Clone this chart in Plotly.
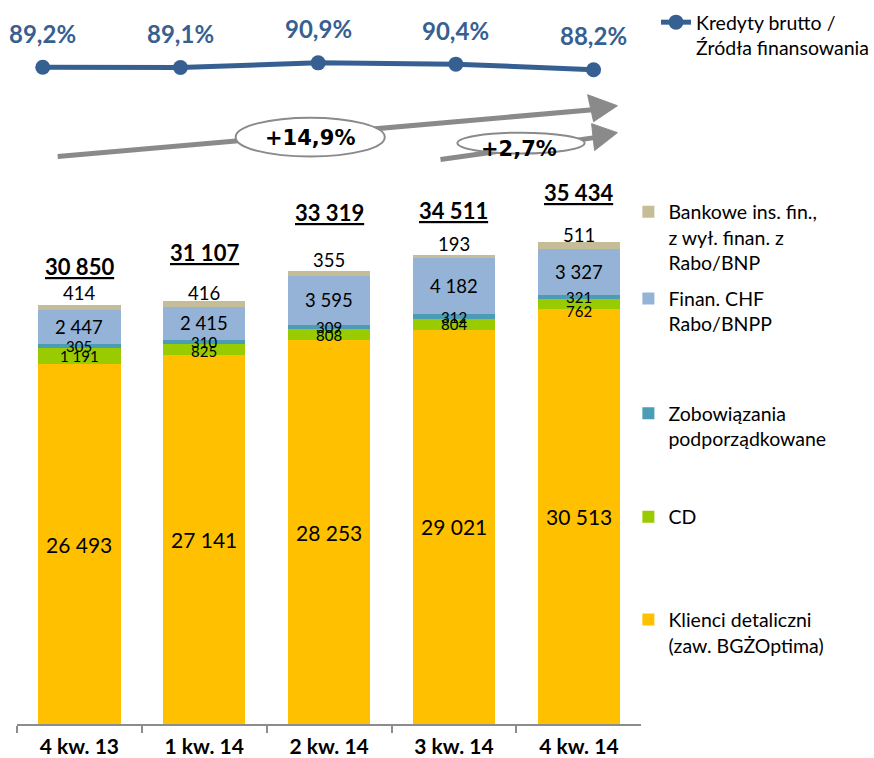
import plotly.graph_objects as go

# ---------------- data ----------------
quarters = ["4 kw. 13", "1 kw. 14", "2 kw. 14", "3 kw. 14", "4 kw. 14"]
klienci = [26493, 27141, 28253, 29021, 30513]
cd = [1191, 825, 808, 804, 762]
zobow = [305, 310, 309, 312, 321]
chf = [2447, 2415, 3595, 4182, 3327]
bankowe = [414, 416, 355, 193, 511]
totals = [30850, 31107, 33319, 34511, 35434]
ratio = [89.2, 89.1, 90.9, 90.4, 88.2]
growth_labels = ["+14,9%", "+2,7%"]

series_names = [
    "Klienci detaliczni<br>(zaw. BGŻOptima)",
    "CD",
    "Zobowiązania<br>podporządkowane",
    "Finan. CHF<br>Rabo/BNPP",
    "Bankowe ins. fin.,<br>z wył. finan. z<br>Rabo/BNP",
]
line_name = "Kredyty brutto /<br>Źródła finansowania"

# ---------------- styles / positions ----------------
W, H = 874, 758
FONT = "Lato"
colors = ["#FFC000", "#99CC00", "#4A9DB5", "#95B3D7", "#C4BD97"]
LINE_COLOR = "#376092"
GREY = "#8A8A8A"


def px(x):
    return x / W


def py(y):
    return 1 - y / H


PX_PER_UNIT = 0.01363          # bar scale (pixels per million)
PLOT_BOTTOM = 726              # pixel row of the category axis
RATIO_PX = 2.59                # pixels per percentage point of the line
RATIO_TOP = 90.9 + 63 / RATIO_PX
STEP = 138.5                   # pixel distance between line points
FIRST = 43                     # pixel column of the first line point

fmt = lambda v: f"{v:,}".replace(",", " ")

fig = go.Figure()

stack = [klienci, cd, zobow, chf, bankowe]
legend_ids = ["legend6", "legend5", "legend4", "legend3", "legend2"]
for vals, name, col, lg in zip(stack, series_names, colors, legend_ids):
    fig.add_trace(go.Bar(
        x=quarters, y=vals, name=name, marker=dict(color=col, line=dict(width=0)),
        legend=lg, hoverinfo="skip",
    ))

fig.add_trace(go.Scatter(
    x=quarters, y=ratio, xaxis="x2", yaxis="y2", name=line_name,
    mode="lines+markers", line=dict(color=LINE_COLOR, width=5),
    marker=dict(color=LINE_COLOR, size=15), legend="legend", hoverinfo="skip",
    cliponaxis=False,
))

annotations = []
# segment labels
cd_shift = [0, -1, 0, 0, -7]
for i, q in enumerate(quarters):
    base = 0
    for k, vals in enumerate(stack[:4]):
        mid = base + vals[i] / 2
        base += vals[i]
        size = 21 if k == 0 else (18.5 if k == 3 else 15)
        ys = cd_shift[i] if k == 1 else 0
        annotations.append(dict(
            x=q, y=mid, xref="x", yref="y", text=fmt(vals[i]), showarrow=False,
            yshift=ys, font=dict(family=FONT, size=size, color="#000000"),
        ))

# top segment labels and totals
top_shift = [12, 8, 11, 11, 7]
total_shift = [38, 49, 59, 44, 50]
for i, q in enumerate(quarters):
    annotations.append(dict(
        x=q, y=totals[i], xref="x", yref="y", text=fmt(bankowe[i]), showarrow=False,
        yshift=top_shift[i], font=dict(family=FONT, size=18.5, color="#000000"),
    ))
    annotations.append(dict(
        x=q, y=totals[i], xref="x", yref="y", text="<u>" + fmt(totals[i]) + "</u>",
        showarrow=False, yshift=total_shift[i],
        font=dict(family=FONT, size=22, color="#000000", weight="bold"),
    ))

# ratio labels
for i, q in enumerate(quarters):
    annotations.append(dict(
        x=q, y=ratio[i], xref="x2", yref="y2",
        text=f"{ratio[i]:.1f}".replace(".", ",") + "%", showarrow=False, yshift=34,
        font=dict(family=FONT, size=24, color=LINE_COLOR, weight="bold"),
    ))

# growth arrows
shapes = []
arrows = [
    dict(line=((58, 157), (596, 110)), head=((591, 95), (621, 106), (597, 122)),
         ell=(237, 118, 387, 157), text=(312, 138)),
    dict(line=((443, 160), (598, 138)), head=((595, 124), (621, 133), (598, 151)),
         ell=(460, 133, 588, 154), text=(522, 149)),
]
for a, lbl in zip(arrows, growth_labels):
    (x0, y0), (x1, y1) = a["line"]
    shapes.append(dict(type="line", xref="paper", yref="paper",
                       x0=px(x0), y0=py(y0), x1=px(x1), y1=py(y1),
                       line=dict(color=GREY, width=5)))
    hp = a["head"]
    path = "M {} {} L {} {} L {} {} Z".format(
        px(hp[0][0]), py(hp[0][1]), px(hp[1][0]), py(hp[1][1]), px(hp[2][0]), py(hp[2][1]))
    shapes.append(dict(type="path", xref="paper", yref="paper", path=path,
                       fillcolor=GREY, line=dict(color=GREY, width=1)))
for a, lbl in zip(arrows, growth_labels):
    ex0, ey0, ex1, ey1 = a["ell"]
    shapes.append(dict(type="circle", xref="paper", yref="paper",
                       x0=px(ex0), y0=py(ey0), x1=px(ex1), y1=py(ey1),
                       fillcolor="white", line=dict(color=GREY, width=2)))
    tx, ty = a["text"]
    annotations.append(dict(x=px(tx), y=py(ty), xref="paper", yref="paper",
                            xanchor="center", yanchor="middle",
                            text=lbl, showarrow=False,
                            font=dict(family="DejaVu Sans", size=21, color="#000000",
                                      weight="bold")))

legend_font = dict(family=FONT, size=19.5, color="#000000")


def lg(y):
    return dict(x=px(632), y=py(y), xanchor="left", yanchor="top", font=legend_font,
                valign="top", bgcolor="rgba(0,0,0,0)", borderwidth=0)


fig.update_layout(
    width=W, height=H, margin=dict(l=0, r=0, t=0, b=0),
    paper_bgcolor="white", plot_bgcolor="rgba(0,0,0,0)",
    barmode="stack", bargap=0.34,
    showlegend=True,
    xaxis=dict(domain=[px(17), px(645)], type="category", showline=True,
               linecolor="#8C8C8C", linewidth=1.5, ticks="outside", tickson="boundaries",
               ticklen=7, tickcolor="#8C8C8C", tickwidth=1.5, showgrid=False,
               ticklabelstandoff=3,
               tickfont=dict(family=FONT, size=21, color="#000000", weight="bold"),
               fixedrange=True),
    yaxis=dict(domain=[(H - PLOT_BOTTOM) / H, 1], range=[0, PLOT_BOTTOM / PX_PER_UNIT],
               visible=False, fixedrange=True),
    xaxis2=dict(domain=[0, 1], anchor="y2", type="category", visible=False,
                range=[-FIRST / STEP, (W - FIRST) / STEP], fixedrange=True),
    yaxis2=dict(domain=[0, 1], anchor="x2", visible=False,
                range=[RATIO_TOP - H / RATIO_PX, RATIO_TOP], fixedrange=True),
    legend=dict(x=px(660), y=py(3), xanchor="left", yanchor="top", font=legend_font,
                valign="top", bgcolor="rgba(0,0,0,0)"),
    legend2=lg(193),
    legend3=lg(280),
    legend4=lg(395),
    legend5=lg(499),
    legend6=lg(602),
    annotations=annotations,
    shapes=shapes,
)

fig.write_html("out.html", config={"displayModeBar": False},
               post_script="document.body.style.margin='0';")
